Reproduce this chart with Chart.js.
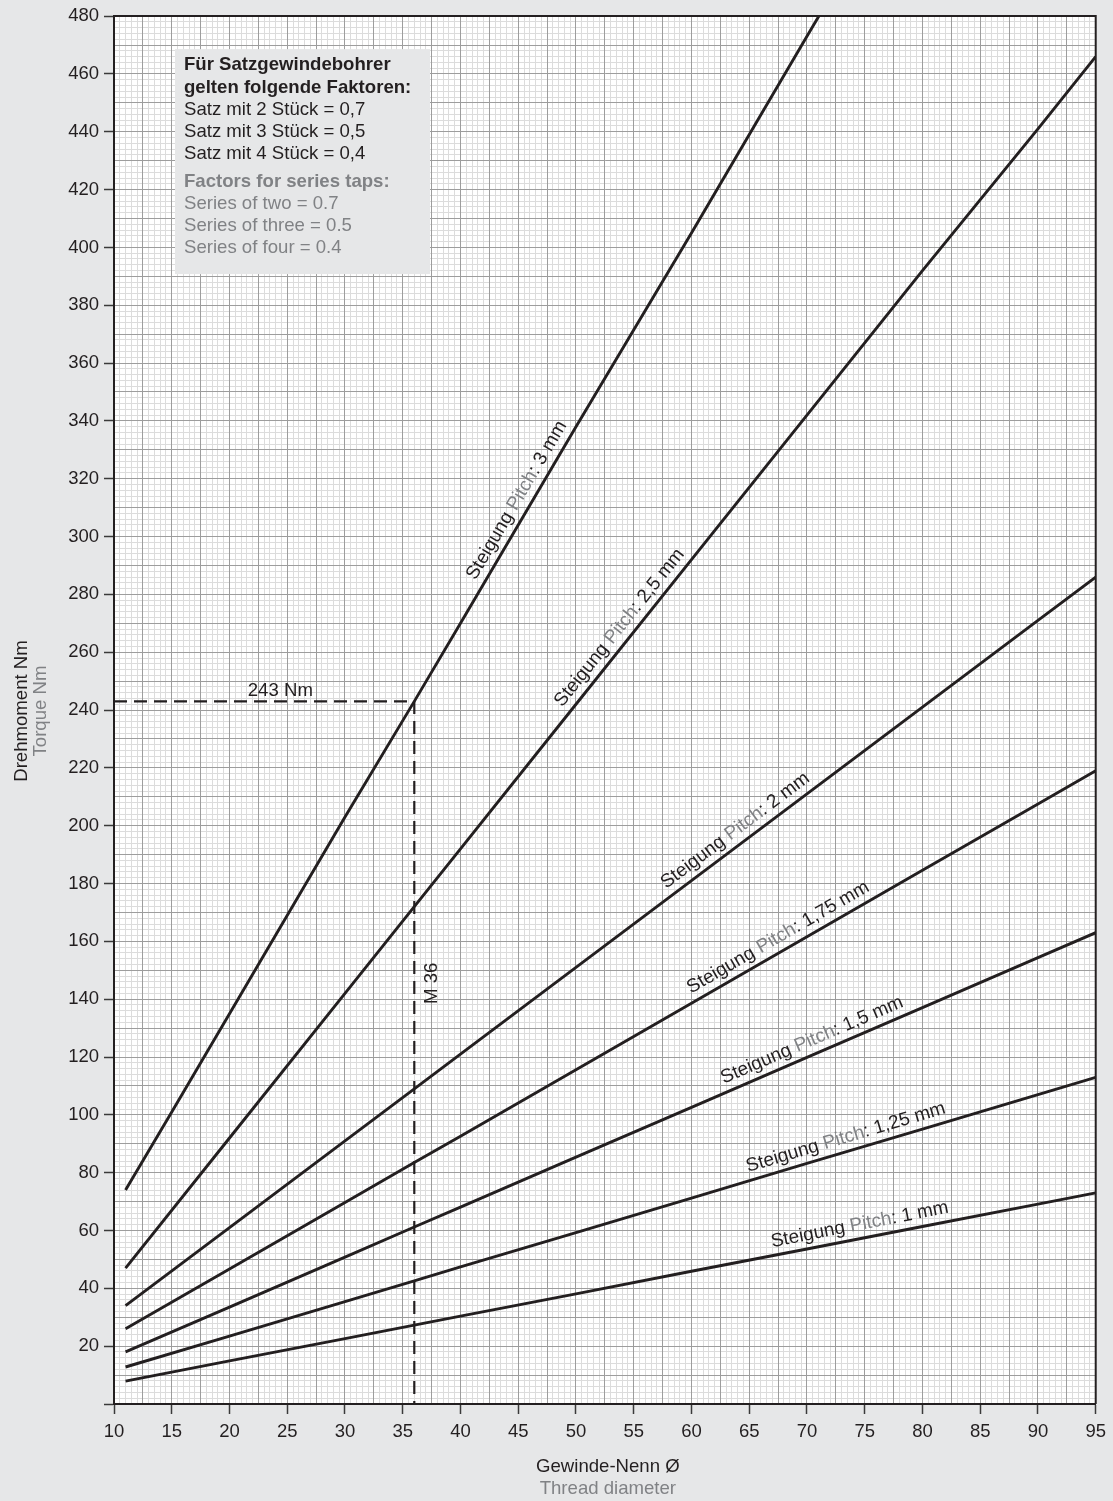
<!DOCTYPE html>
<html>
<head>
<meta charset="utf-8">
<script src="https://cdn.jsdelivr.net/npm/chart.js@4.4.1/dist/chart.umd.min.js"></script>
<style>
  html, body { margin: 0; padding: 0; background: #e6e7e8; }
  canvas { display: block; }
</style>
</head>
<body>
<canvas id="torqueChart" width="1113" height="1501"></canvas>
<script>
const diameters = [11, 20, 30, 36, 40, 50, 60, 70, 80, 90, 95];
const diameters3 = [11, 15, 20, 30, 36, 40, 50, 60, 70, 75];

// Torque (Nm) per pitch
const torque3 = [74, 101, 135, 203, 243, 270, 338, 405, 473, 507];
const torque25 = [47, 92, 142, 172, 192, 242, 292, 342, 392, 441, 466];
const torque2 = [34, 61, 91, 109, 121, 151, 181, 211, 241, 271, 286];
const torque175 = [26, 46.7, 69.7, 83.5, 92.6, 115.6, 138.6, 161.6, 184.6, 207.5, 219];
const torque15 = [18, 33.5, 50.8, 61.2, 68.1, 85.4, 102.6, 119.9, 137.1, 154.4, 163];
const torque125 = [12.8, 23.5, 35.4, 42.6, 47.4, 59.3, 71.2, 83.2, 95.1, 107, 113];
const torque1 = [7.9, 14.9, 22.6, 27.3, 30.4, 38.1, 45.9, 53.6, 61.4, 69.1, 73];

const pitchNames = ['3 mm', '2,5 mm', '2 mm', '1,75 mm', '1,5 mm', '1,25 mm', '1 mm'];
const pitchLabelAt = [45.9, 54.7, 64.5, 68.1, 70.9, 73.7, 74.8];

// Tick labels
const xTickLabels = [10, 15, 20, 25, 30, 35, 40, 45, 50, 55, 60, 65, 70, 75, 80, 85, 90, 95];
const yTickLabels = [20, 40, 60, 80, 100, 120, 140, 160, 180, 200, 220, 240, 260, 280, 300, 320, 340, 360, 380, 400, 420, 440, 460, 480];

// Worked example M36 -> 243 Nm
const exampleDiameter = 36;
const exampleTorque = 243;

const boxLinesDe = ['Satz mit 2 Stück = 0,7', 'Satz mit 3 Stück = 0,5', 'Satz mit 4 Stück = 0,4'];
const boxLinesEn = ['Series of two = 0.7', 'Series of three = 0.5', 'Series of four = 0.4'];

const FONT = '"Liberation Sans", Arial, Helvetica, sans-serif';
const DARK = '#231f20';
const GREY = '#808285';

function toPoints(xs, ys) {
    return xs.map((x, i) => ({ x: x, y: ys[i] }));
}

function curve(xs, ys) {
    return {
        data: toPoints(xs, ys),
        borderColor: DARK,
        borderWidth: 2.9,
        pointRadius: 0,
        tension: 0,
        clip: 0
    };
}

const overlay = {
    id: 'overlay',
    beforeDraw(chart) {
        const { ctx, chartArea: a } = chart;
        ctx.save();
        ctx.fillStyle = '#ffffff';
        ctx.fillRect(a.left, a.top, a.right - a.left, a.bottom - a.top);
        ctx.restore();
    },
    beforeDatasetsDraw(chart) {
        // info box
        const ctx = chart.ctx;
        const a = chart.chartArea;
        const bx = a.left + 61, by = a.top + 33;
        ctx.save();
        ctx.fillStyle = '#e6e7e8';
        ctx.fillRect(bx, by, 255, 225);
        ctx.textBaseline = 'alphabetic';
        ctx.fillStyle = DARK;
        ctx.font = 'bold 18.6px ' + FONT;
        ctx.fillText('Für Satzgewindebohrer', bx + 9, by + 21);
        ctx.fillText('gelten folgende Faktoren:', bx + 9, by + 44);
        ctx.font = '18.6px ' + FONT;
        boxLinesDe.forEach((t, i) => ctx.fillText(t, bx + 9, by + 66 + i * 22));
        ctx.fillStyle = GREY;
        ctx.font = 'bold 18.6px ' + FONT;
        ctx.fillText('Factors for series taps:', bx + 9, by + 138);
        ctx.font = '18.6px ' + FONT;
        boxLinesEn.forEach((t, i) => ctx.fillText(t, bx + 9, by + 160 + i * 22));
        ctx.restore();
    },
    afterDatasetsDraw(chart) {
        const { ctx, chartArea: a } = chart;
        const xs = chart.scales.x, ys = chart.scales.y;
        ctx.save();
        ctx.strokeStyle = DARK;
        ctx.lineWidth = 2;
        ctx.beginPath();
        ctx.moveTo(a.left, a.top);
        ctx.lineTo(a.right, a.top);
        ctx.lineTo(a.right, a.bottom);
        ctx.stroke();

        // pitch labels along the curves
        ctx.font = '19px ' + FONT;
        ctx.textBaseline = 'alphabetic';
        chart.data.datasets.slice(0, 7).forEach((ds, i) => {
            const pts = ds.data;
            const xv = pitchLabelAt[i];
            let k = 0;
            while (k < pts.length - 2 && pts[k + 1].x < xv) k++;
            const p0 = pts[k], p1 = pts[k + 1];
            const yv = p0.y + (p1.y - p0.y) * (xv - p0.x) / (p1.x - p0.x);
            const px = xs.getPixelForValue(xv), py = ys.getPixelForValue(yv);
            const ang = Math.atan2(ys.getPixelForValue(p1.y) - ys.getPixelForValue(p0.y),
                xs.getPixelForValue(p1.x) - xs.getPixelForValue(p0.x));
            const parts = [['Steigung ', DARK], ['Pitch', GREY], [': ' + pitchNames[i], DARK]];
            const total = parts.reduce((s, p) => s + ctx.measureText(p[0]).width, 0);
            ctx.save();
            ctx.translate(px, py);
            ctx.rotate(ang);
            let x = -total / 2;
            parts.forEach(p => {
                ctx.fillStyle = p[1];
                ctx.fillText(p[0], x, -8.5);
                x += ctx.measureText(p[0]).width;
            });
            ctx.restore();
        });

        // example annotations
        ctx.font = '18.6px ' + FONT;
        ctx.fillStyle = DARK;
        ctx.textAlign = 'center';
        ctx.fillText(exampleTorque + ' Nm', xs.getPixelForValue(24.4), ys.getPixelForValue(exampleTorque) - 5);
        ctx.save();
        ctx.translate(xs.getPixelForValue(exampleDiameter) + 23, ys.getPixelForValue(145.5));
        ctx.rotate(-Math.PI / 2);
        ctx.fillText('M 36', 0, 0);
        ctx.restore();
        ctx.restore();
    },
    afterDraw(chart) {
        const ctx = chart.ctx;
        const a = chart.chartArea;
        ctx.save();
        ctx.font = '18.6px ' + FONT;
        ctx.textAlign = 'center';
        ctx.textBaseline = 'middle';
        const cx = (a.left + a.right) / 2 + 3;
        ctx.fillStyle = DARK;
        ctx.fillText('Gewinde-Nenn Ø', cx, 1467);
        ctx.fillStyle = GREY;
        ctx.fillText('Thread diameter', cx, 1489);
        ctx.save();
        ctx.translate(22, 711);
        ctx.rotate(-Math.PI / 2);
        ctx.fillStyle = DARK;
        ctx.fillText('Drehmoment Nm', 0, 0);
        ctx.restore();
        ctx.save();
        ctx.translate(41, 711);
        ctx.rotate(-Math.PI / 2);
        ctx.fillStyle = GREY;
        ctx.fillText('Torque Nm', 0, 0);
        ctx.restore();
        ctx.restore();
    }
};

const dashed = {
    data: [
        { x: 10, y: exampleTorque },
        { x: exampleDiameter, y: exampleTorque },
        { x: exampleDiameter, y: 0 }
    ],
    borderColor: DARK,
    borderWidth: 2.2,
    borderDash: [13, 7],
    pointRadius: 0,
    tension: 0,
    clip: 0
};

const tickFont = { family: FONT, size: 18.5 };

new Chart(document.getElementById('torqueChart').getContext('2d'), {
    type: 'line',
    data: {
        datasets: [
            curve(diameters3, torque3),
            curve(diameters, torque25),
            curve(diameters, torque2),
            curve(diameters, torque175),
            curve(diameters, torque15),
            curve(diameters, torque125),
            curve(diameters, torque1),
            dashed
        ]
    },
    options: {
        responsive: false,
        animation: false,
        devicePixelRatio: 1,
        layout: { padding: { top: 14, right: 16, left: 0, bottom: 0 } },
        plugins: { legend: { display: false }, tooltip: { enabled: false } },
        scales: {
            xFine: {
                type: 'linear', position: 'bottom', min: 10, max: 95,
                ticks: { display: false, stepSize: 0.5, autoSkip: false, maxTicksLimit: 1000 },
                grid: { color: '#dcdcdc', lineWidth: 1, drawTicks: false, z: -2 },
                border: { display: false },
                afterFit: s => { s.height = 0; }
            },
            yFine: {
                type: 'linear', position: 'left', min: 0, max: 480,
                ticks: { display: false, stepSize: 2, autoSkip: false, maxTicksLimit: 1000 },
                grid: { color: '#dcdcdc', lineWidth: 1, drawTicks: false, z: -2 },
                border: { display: false },
                afterFit: s => { s.width = 0; }
            },
            x: {
                type: 'linear', position: 'bottom', min: 10, max: 95,
                ticks: {
                    stepSize: 2.5, autoSkip: false, maxRotation: 0, padding: 7,
                    color: DARK, font: tickFont,
                    callback: v => xTickLabels.includes(v) ? String(v) : ''
                },
                grid: {
                    color: '#9d9d9d', lineWidth: 1, tickLength: 10, tickWidth: 1.5,
                    tickColor: c => xTickLabels.includes(c.tick.value) ? '#3a3a3a' : 'rgba(0,0,0,0)'
                },
                border: { color: DARK, width: 2 },
                afterFit: s => { s.height = 97; }
            },
            y: {
                type: 'linear', position: 'left', min: 0, max: 480,
                ticks: {
                    stepSize: 10, autoSkip: false, padding: 5,
                    color: DARK, font: tickFont,
                    callback: v => yTickLabels.includes(v) ? String(v) : ''
                },
                grid: {
                    color: '#9d9d9d', lineWidth: 1, tickLength: 10, tickWidth: 1.5,
                    tickColor: c => (c.tick.value % 20 === 0) ? '#3a3a3a' : 'rgba(0,0,0,0)'
                },
                border: { color: DARK, width: 2 },
                afterFit: s => { s.width = 114; }
            }
        }
    },
    plugins: [overlay]
});
</script>
</body>
</html>
